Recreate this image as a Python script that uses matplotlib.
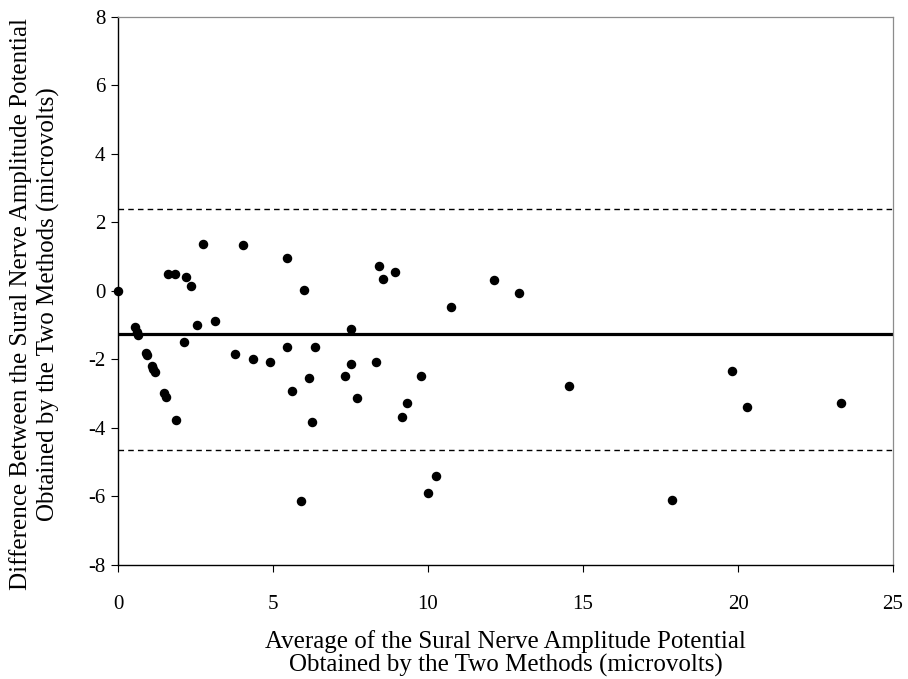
import matplotlib
matplotlib.use("Agg")
import matplotlib.pyplot as plt

# average of the two methods (microvolts)
avg = [0.00, 0.55, 0.60, 0.63, 0.89, 0.95, 1.09, 1.14, 1.19, 1.49, 1.54, 1.88,
       1.62, 1.85, 2.18, 2.35, 2.74, 2.14, 2.56, 3.13, 4.03, 3.76, 4.36, 4.91,
       5.45, 5.44, 5.61, 6.01, 6.17, 6.25, 6.34, 7.52, 7.52, 7.33, 7.72, 8.32,
       8.43, 8.55, 8.94, 10.74, 12.12, 12.92, 9.76, 9.31, 9.15, 5.89, 10.27,
       10.01, 14.55, 19.81, 20.28, 23.33, 17.88]
# difference between the two methods (microvolts)
diff = [0.00, -1.06, -1.19, -1.28, -1.80, -1.87, -2.18, -2.29, -2.37, -2.97, -3.09, -3.78,
        0.50, 0.50, 0.42, 0.15, 1.38, -1.49, -0.99, -0.87, 1.34, -1.83, -1.99, -2.06,
        0.96, -1.64, -2.91, 0.04, -2.55, -3.82, -1.64, -1.10, -2.13, -2.47, -3.13, -2.06,
        0.73, 0.35, 0.55, -0.46, 0.31, -0.07, -2.48, -3.28, -3.67, -6.12, -5.39,
        -5.89, -2.78, -2.33, -3.40, -3.28, -6.10]

mean_diff = -1.26
upper_limit = 2.39
lower_limit = -4.64

plt.rcParams['font.family'] = ['Liberation Serif', 'DejaVu Serif']
plt.rcParams['axes.unicode_minus'] = False

fig = plt.figure(figsize=(9.08, 6.79), dpi=100)
ax = fig.add_axes([0.130, 0.168, 0.8535, 0.807])

ax.axhline(mean_diff, color='black', lw=2.3, zorder=2)
ax.axhline(upper_limit, color='black', lw=1.0, ls=(0, (4, 3)), zorder=2)
ax.axhline(lower_limit, color='black', lw=1.0, ls=(0, (4, 3)), zorder=2)
ax.scatter(avg, diff, s=34, color='black', zorder=3, clip_on=False)

ax.set_xlim(0, 25)
ax.set_ylim(-8, 8)
ax.set_xticks(range(0, 26, 5))
ax.set_yticks(range(-8, 9, 2))
ax.tick_params(axis='both', direction='out', length=5, width=0.8, labelsize=15)
ax.tick_params(axis='x', pad=17)
ax.tick_params(axis='y', pad=4)

for side in ['top', 'right']:
    ax.spines[side].set_color('0.55')
    ax.spines[side].set_linewidth(0.9)
for side in ['left', 'bottom']:
    ax.spines[side].set_color('black')
    ax.spines[side].set_linewidth(1.0)

ax.set_xlabel('Average of the Sural Nerve Amplitude Potential\n'
              'Obtained by the Two Methods (microvolts)', fontsize=18,
              labelpad=11, linespacing=1.05)
ax.set_ylabel('Difference Between the Sural Nerve Amplitude Potential\n'
              'Obtained by the Two Methods (microvolts)', fontsize=18,
              linespacing=1.3)
ax.yaxis.set_label_coords(-0.075, 0.476)

fig.savefig('out.png', dpi=100)
